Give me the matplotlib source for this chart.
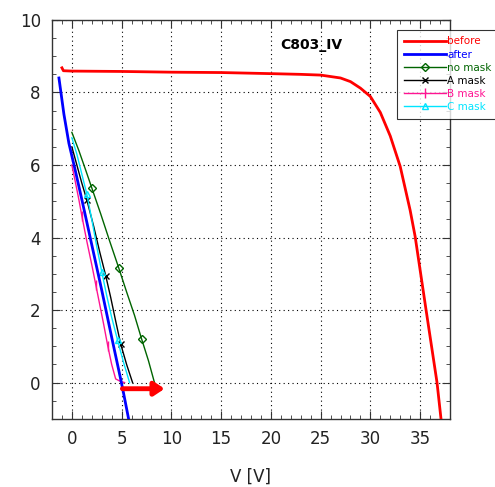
import matplotlib
matplotlib.use("Agg")
import matplotlib.pyplot as plt

# before (red)
before_v = [-1.0, -0.85, 0, 5, 10, 15, 20, 23, 25, 27, 28, 29, 30, 31, 32, 33, 34, 34.5, 35.6, 36.7, 37.1]
before_i = [8.68, 8.6, 8.59, 8.58, 8.56, 8.55, 8.52, 8.5, 8.48, 8.4, 8.3, 8.12, 7.89, 7.45, 6.8, 5.96, 4.75, 4.03, 2.0, 0.0, -1.0]

# after (blue)
after_v = [-1.3, -0.8, -0.3, 0.3, 1.0, 2.0, 3.0, 4.0, 4.9, 5.2, 5.7]
after_i = [8.4, 7.4, 6.6, 5.9, 5.05, 3.8, 2.55, 1.25, 0.1, -0.3, -1.0]

# no mask (green)
nomask_v = [0.0, 0.7, 1.4, 2.0, 2.9, 3.8, 4.7, 5.5, 6.3, 7.0, 7.7, 8.3]
nomask_i = [6.9, 6.4, 5.85, 5.37, 4.65, 3.9, 3.17, 2.5, 1.85, 1.21, 0.6, 0.0]

# A mask (black)
amask_v = [0.0, 0.5, 1.0, 1.5, 2.2, 2.8, 3.4, 3.9, 4.4, 4.9, 5.5, 6.1]
amask_i = [6.5, 6.0, 5.5, 5.04, 4.3, 3.6, 2.95, 2.35, 1.7, 1.07, 0.5, 0.0]

# B mask (pink)
bmask_v = [0.0, 0.3, 0.7, 1.0, 1.5, 2.0, 2.4, 2.8, 3.2, 3.6, 4.0, 4.4, 4.9, 5.3]
bmask_i = [6.0, 5.6, 5.05, 4.6, 3.9, 3.25, 2.7, 2.15, 1.6, 1.02, 0.5, 0.1, 0.03, 0.0]

# C mask (cyan)
cmask_v = [0.0, 0.5, 1.0, 1.5, 2.0, 2.5, 3.0, 3.5, 4.0, 4.6, 5.2, 5.8]
cmask_i = [6.75, 6.3, 5.75, 5.2, 4.5, 3.75, 3.06, 2.4, 1.8, 1.16, 0.55, 0.0]

xticks = [0, 5, 10, 15, 20, 25, 30, 35]
yticks = [0, 2, 4, 6, 8, 10]

fig = plt.figure(figsize=(4.95, 4.87), dpi=100)
ax = fig.add_axes([0.105, 0.140, 0.804, 0.819])

ax.plot(before_v, before_i, color="#ff0000", lw=2.0, label="before", zorder=5)
ax.plot(after_v, after_i, color="#0000ff", lw=2.0, label="after", zorder=5)
ax.plot(nomask_v, nomask_i, color="#006400", lw=1.0, marker="D", ms=4, mfc="none",
        markevery=[3, 6, 9], label="no mask", zorder=4)
ax.plot(amask_v, amask_i, color="black", lw=1.0, marker="x", ms=5,
        markevery=[3, 6, 9], label="A mask", zorder=4)
ax.plot(bmask_v, bmask_i, color="#ff1493", lw=1.0, marker="|", ms=7,
        markevery=[3, 6, 9], label="B mask", zorder=4)
ax.plot(cmask_v, cmask_i, color="#00e5ff", lw=1.0, marker="^", ms=5, mfc="none",
        markevery=[3, 6, 9], label="C mask", zorder=4)

ax.annotate("", xy=(9.6, -0.17), xytext=(4.8, -0.17),
            arrowprops=dict(arrowstyle="-|>,head_length=0.6,head_width=0.4",
                            color="#ff0000", lw=3.5), zorder=6)

ax.text(20.9, 9.3, "C803_IV", fontsize=10, fontweight="bold", ha="left", va="center")

ax.set_xlim(-2, 38)
ax.set_ylim(-1, 10)
ax.set_xticks(xticks)
ax.set_yticks(yticks)
ax.set_xticks([x for x in range(-1, 38)], minor=True)
ax.set_yticks([y * 0.5 for y in range(-2, 21)], minor=True)
ax.tick_params(which="both", direction="in", top=True, right=True, colors="#333333",
               labelsize=12, labelcolor="#222222")
ax.tick_params(which="major", length=6, pad=8)
ax.tick_params(which="minor", length=3)
ax.grid(True, which="major", color="black", linestyle=(0, (1, 3)), lw=0.8)
for s in ax.spines.values():
    s.set_color("#333333")
    s.set_linewidth(1.0)
ax.set_xlabel("V [V]", fontsize=12, color="#222222", labelpad=14)

leg = ax.legend(loc="upper left", bbox_to_anchor=(0.803, 0.939), bbox_transform=fig.transFigure,
                fontsize=7.5, frameon=True, fancybox=False, edgecolor="black",
                handlelength=4.0, handletextpad=0.15, borderaxespad=0, labelspacing=0.3,
                borderpad=0.65)
leg.get_frame().set_linewidth(0.8)
for txt, line in zip(leg.get_texts(), leg.get_lines()):
    txt.set_color(line.get_color())
leg.set_zorder(10)

fig.savefig("out.png", dpi=100)
